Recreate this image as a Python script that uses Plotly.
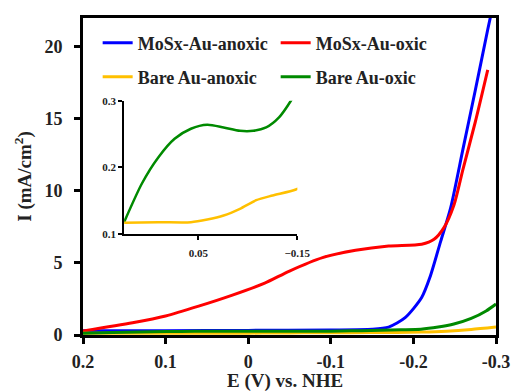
import plotly.graph_objects as go

# ---- data ----
blue_x = [0.2, 0.1, 0.0, -0.1, -0.15, -0.17, -0.19, -0.21, -0.22, -0.233, -0.245, -0.26, -0.275, -0.29, -0.296]
blue_y = [0.3, 0.3, 0.32, 0.35, 0.4, 0.55, 1.2, 2.6, 4.0, 6.5, 8.8, 12.9, 17.0, 21.2, 22.8]

red_x = [0.2, 0.14, 0.1, 0.06, 0.02, -0.02, -0.05, -0.09, -0.13, -0.17, -0.21, -0.225, -0.237, -0.249, -0.26, -0.275, -0.29]
red_y = [0.28, 0.85, 1.32, 2.0, 2.75, 3.6, 4.44, 5.37, 5.88, 6.18, 6.30, 6.64, 7.45, 9.0, 11.5, 14.8, 18.4]

yellow_x = [0.2, 0.131, 0.065, 0.032, -0.001, -0.034, -0.067, -0.1, -0.147, -0.18, -0.21, -0.24, -0.27, -0.3]
yellow_y = [0.117, 0.118, 0.118, 0.122, 0.128, 0.138, 0.151, 0.158, 0.167, 0.18, 0.2, 0.26, 0.38, 0.55]

green_x = [0.2, 0.164, 0.131, 0.098, 0.065, 0.032, -0.001, -0.034, -0.061, -0.087, -0.113, -0.137, -0.16, -0.185, -0.209, -0.23, -0.249, -0.27, -0.288, -0.3]
green_y = [0.118, 0.176, 0.215, 0.243, 0.258, 0.264, 0.260, 0.255, 0.255, 0.260, 0.275, 0.300, 0.33, 0.36, 0.40, 0.55, 0.76, 1.15, 1.67, 2.15]

x_ticks = [0.2, 0.1, 0, -0.1, -0.2, -0.3]
x_labels = ["0.2", "0.1", "0", "-0.1", "-0.2", "-0.3"]
y_ticks = [0, 5, 10, 15, 20]
inset_x_ticks = [0.05, -0.15]
inset_y_ticks = [0.1, 0.2, 0.3]

BLUE, RED, YELLOW, GREEN = "#0000FF", "#FF0000", "#FFC000", "#008A00"
FONT = "Liberation Serif"

fig = go.Figure()
series = [
    ("MoSx-Au-anoxic", blue_x, blue_y, BLUE, "legend"),
    ("MoSx-Au-oxic", red_x, red_y, RED, "legend"),
    ("Bare Au-anoxic", yellow_x, yellow_y, YELLOW, "legend2"),
    ("Bare Au-oxic", green_x, green_y, GREEN, "legend2"),
]
for name, xs, ys, col, lg in series:
    fig.add_trace(go.Scatter(x=xs, y=ys, name=name, mode="lines", legend=lg,
                             line=dict(color=col, width=3, shape="spline", smoothing=0.7)))
# inset
for name, xs, ys, col in [("Bare Au-oxic", green_x, green_y, GREEN),
                          ("Bare Au-anoxic", yellow_x, yellow_y, YELLOW)]:
    fig.add_trace(go.Scatter(x=xs, y=ys, name=name, mode="lines", showlegend=False,
                             xaxis="x2", yaxis="y2",
                             line=dict(color=col, width=2.5, shape="spline", smoothing=0.7)))

fig.update_layout(
    width=521, height=392,
    margin=dict(l=83, r=16, t=17, b=57),
    plot_bgcolor="white", paper_bgcolor="white",
    font=dict(family=FONT, color="#222222"),
    xaxis=dict(range=[0.2, -0.3], tickvals=x_ticks, ticktext=x_labels, automargin=False,
               showgrid=False, zeroline=False, showline=True, linecolor="black", linewidth=3,
               mirror=True, ticks="outside", ticklen=6, tickwidth=3, tickcolor="black",
               tickfont=dict(family=FONT, size=18, weight="bold"), ticklabelstandoff=2),
    yaxis=dict(range=[0, 22], tickvals=y_ticks, automargin=False,
               showgrid=False, zeroline=False, showline=True, linecolor="black", linewidth=3,
               mirror=True, ticks="outside", ticklen=6, tickwidth=3, tickcolor="black",
               tickfont=dict(family=FONT, size=18, weight="bold"), ticklabelstandoff=8,
               title=dict(text="I (mA/cm<sup>2</sup>)", font=dict(family=FONT, size=19, weight="bold"), standoff=8)),
    xaxis2=dict(domain=[0.0995, 0.519], anchor="y2", range=[0.2, -0.15], tickvals=inset_x_ticks,
                showgrid=False, zeroline=False, showline=True, linecolor="black", linewidth=2,
                ticks="outside", ticklen=4, tickwidth=2, tickcolor="black",
                tickfont=dict(family=FONT, size=11, weight="bold"), ticklabelstandoff=4),
    yaxis2=dict(domain=[0.318, 0.739], anchor="x2", range=[0.1, 0.3], tickvals=inset_y_ticks,
                showgrid=False, zeroline=False, showline=True, linecolor="black", linewidth=2,
                ticks="outside", ticklen=4, tickwidth=2, tickcolor="black",
                tickfont=dict(family=FONT, size=11, weight="bold")),
    legend=dict(orientation="h", x=0.0355, y=0.921, xanchor="left", yanchor="middle",
                bgcolor="rgba(0,0,0,0)", entrywidth=133, entrywidthmode="pixels",
                font=dict(family=FONT, size=18, weight="bold", color="#222222"), traceorder="normal"),
    legend2=dict(orientation="h", x=0.0355, y=0.814, xanchor="left", yanchor="middle",
                 bgcolor="rgba(0,0,0,0)", entrywidth=133, entrywidthmode="pixels",
                 font=dict(family=FONT, size=18, weight="bold", color="#222222"), traceorder="normal"),
    annotations=[dict(text="E (V) vs. NHE", xref="paper", yref="paper", x=0.49, y=-0.146,
                      xanchor="center", yanchor="middle", showarrow=False,
                      font=dict(family=FONT, size=19, weight="bold", color="#222222"))],
)

fig.write_html("out.html")
